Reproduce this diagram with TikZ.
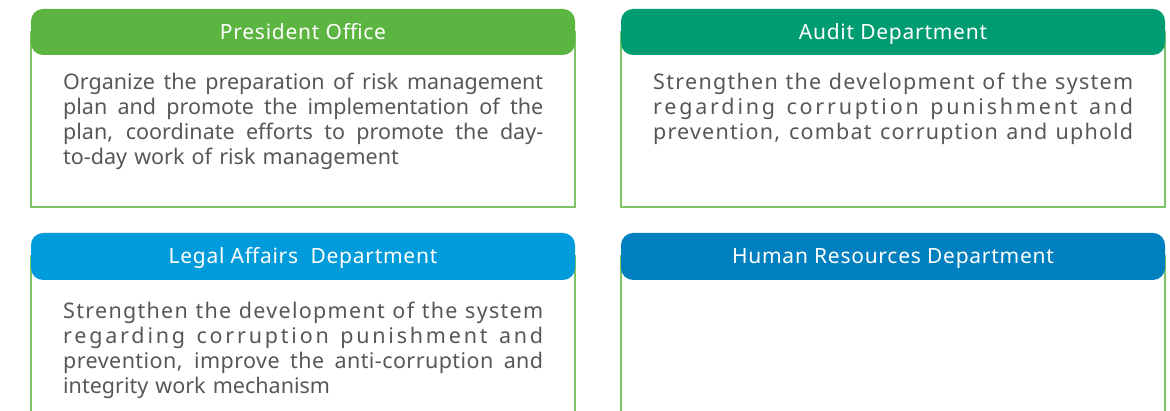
\documentclass[tikz,border=0pt]{standalone}
\usepackage{fontspec}
\setmainfont{Noto Sans}
\usepackage{tikz}
\usetikzlibrary{positioning}
\definecolor{presgreen}{HTML}{5CB541}
\definecolor{auditteal}{HTML}{009C71}
\definecolor{legalblue}{HTML}{009BDA}
\definecolor{hrblue}{HTML}{0080BE}
\definecolor{frameline}{HTML}{7EC464}
\definecolor{bodygray}{HTML}{575757}

% one line of a text block, spread to the full block width
\newcommand{\fitline}[2][0]{\rule{0pt}{19pt}\makebox[480pt][s]{%
  \addfontfeature{LetterSpace=#1}\spaceskip=.26em plus 1fil\relax #2}}
\newcommand{\lastline}[1]{\rule{0pt}{19pt}#1}

\tikzset{
  head/.style={fill=#1, text=white, rounded corners=12pt, minimum width=544pt,
    minimum height=46pt, inner sep=0pt, text height=15pt, text depth=0pt,
    font=\fontsize{21}{25}\selectfont\addfontfeature{LetterSpace=3.5}},
  bodytext/.style={text=bodygray, anchor=north west, inner sep=0pt, align=left,
    text width=480pt, font=\fontsize{21.5}{25}\selectfont},
  box/.style={draw=frameline, line width=1.3pt}
}

\begin{document}
\begin{tikzpicture}[x=1pt, y=-1pt]
\useasboundingbox (0,0) rectangle (1170,411);
% frames behind the title bars
\draw[box] (31,32) rectangle (575,207);
\draw[box] (621,32) rectangle (1165,207);
\foreach \xl/\xr in {31/575, 621/1165}{
  \draw[box] (\xl,415) -- (\xl,256) -- (\xr,256) -- (\xr,415);
}

\node[head=presgreen] (presHead) at (303,32) {President Office};
\node[head=auditteal] (auditHead) at (893,32) {Audit Department};
\node[head=legalblue, minimum height=47pt] (legalHead) at (303,256.5) {Legal Affairs\ \ Department};
\node[head=hrblue, minimum height=47pt] (hrHead) at (893,256.5) {Human Resources Department};

\node[bodytext] (presText) at (63,70.5) {%
  \fitline{Organize the preparation of risk management}\\
  \fitline{plan and promote the implementation of the}\\
  \fitline{plan, coordinate efforts to promote the day-}\\
  \lastline{to-day work of risk management}};
\node[bodytext] (auditText) at (653,70.5) {%
  \fitline[6]{Strengthen the development of the system}\\
  \fitline[13]{regarding corruption punishment and}\\
  \fitline[5.5]{prevention, combat corruption and uphold}};
\node[bodytext] (legalText) at (63,299) {%
  \fitline[6]{Strengthen the development of the system}\\
  \fitline[13]{regarding corruption punishment and}\\
  \fitline[2]{prevention, improve the anti-corruption and}\\
  \lastline{integrity work mechanism}};
\end{tikzpicture}
\end{document}
